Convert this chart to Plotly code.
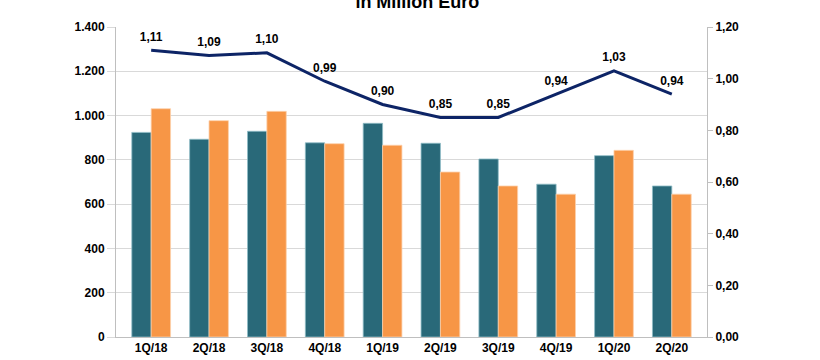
import plotly.graph_objects as go

categories = ["1Q/18", "2Q/18", "3Q/18", "4Q/18", "1Q/19", "2Q/19", "3Q/19", "4Q/19", "1Q/20", "2Q/20"]
series_teal = [924, 893, 929, 877, 965, 875, 804, 690, 819, 682]
series_orange = [1031, 977, 1019, 873, 866, 745, 682, 645, 843, 645]
line_values = [1.11, 1.09, 1.10, 0.99, 0.90, 0.85, 0.85, 0.94, 1.03, 0.94]
left_ticks = [0, 200, 400, 600, 800, 1000, 1200, 1400]
right_ticks = [0.0, 0.2, 0.4, 0.6, 0.8, 1.0, 1.2]

FONT = "Arial, 'Liberation Sans', sans-serif"
line_labels = [f"{v:.2f}".replace(".", ",") for v in line_values]

fig = go.Figure()
fig.add_trace(go.Bar(x=categories, y=series_teal, marker=dict(color="#296979", line=dict(color="#8fbcc7", width=0.8)), showlegend=False))
fig.add_trace(go.Bar(x=categories, y=series_orange, marker=dict(color="#F79646", line=dict(color="#fcd0ac", width=0.8)), showlegend=False))
fig.add_trace(go.Scatter(x=categories, y=line_values, yaxis="y2", mode="lines+markers+text",
                         line=dict(color="#0d2466", width=3),
                         marker=dict(size=9, color="rgba(0,0,0,0)"),
                         text=line_labels, textposition="top center",
                         textfont=dict(family=FONT, size=12, color="#000000", weight="bold"),
                         showlegend=False, cliponaxis=False, hoverinfo="skip"))

tickfont = dict(family=FONT, size=12, color="#000000", weight="bold")
fig.update_layout(
    width=820, height=360,
    margin=dict(l=116, r=113, t=27, b=23, autoexpand=False),
    paper_bgcolor="white", plot_bgcolor="white",
    separators=",.",
    barmode="group", bargap=0.33, bargroupgap=0,
    font=dict(family=FONT, size=12, color="#000000"),
    title=dict(text="<b>in Million Euro</b>", x=0.509, xanchor="center", y=0.994, yanchor="middle",
               font=dict(family=FONT, size=18, color="#000000")),
    xaxis=dict(showgrid=False, showline=True, linecolor="#bfbfbf", linewidth=1,
               tickfont=tickfont, ticks="", automargin=False),
    yaxis=dict(range=[0, 1400], tickvals=left_ticks, tickformat=",d",
               showgrid=True, gridcolor="#d9d9d9", gridwidth=1,
               showline=True, linecolor="#bfbfbf", linewidth=1,
               ticks="outside", ticklen=8, tickcolor="#d9d9d9",
               tickfont=tickfont, zeroline=False, automargin=False),
    yaxis2=dict(range=[0, 1.2], tickvals=right_ticks, tickformat=".2f", overlaying="y", side="right",
                showgrid=False, showline=True, linecolor="#bfbfbf", linewidth=1,
                ticks="outside", ticklen=5, tickcolor="#bfbfbf",
                tickfont=tickfont, zeroline=False, automargin=False),
)

fig.write_html("out.html", config={"displayModeBar": False},
               post_script="document.body.style.margin='0';")
